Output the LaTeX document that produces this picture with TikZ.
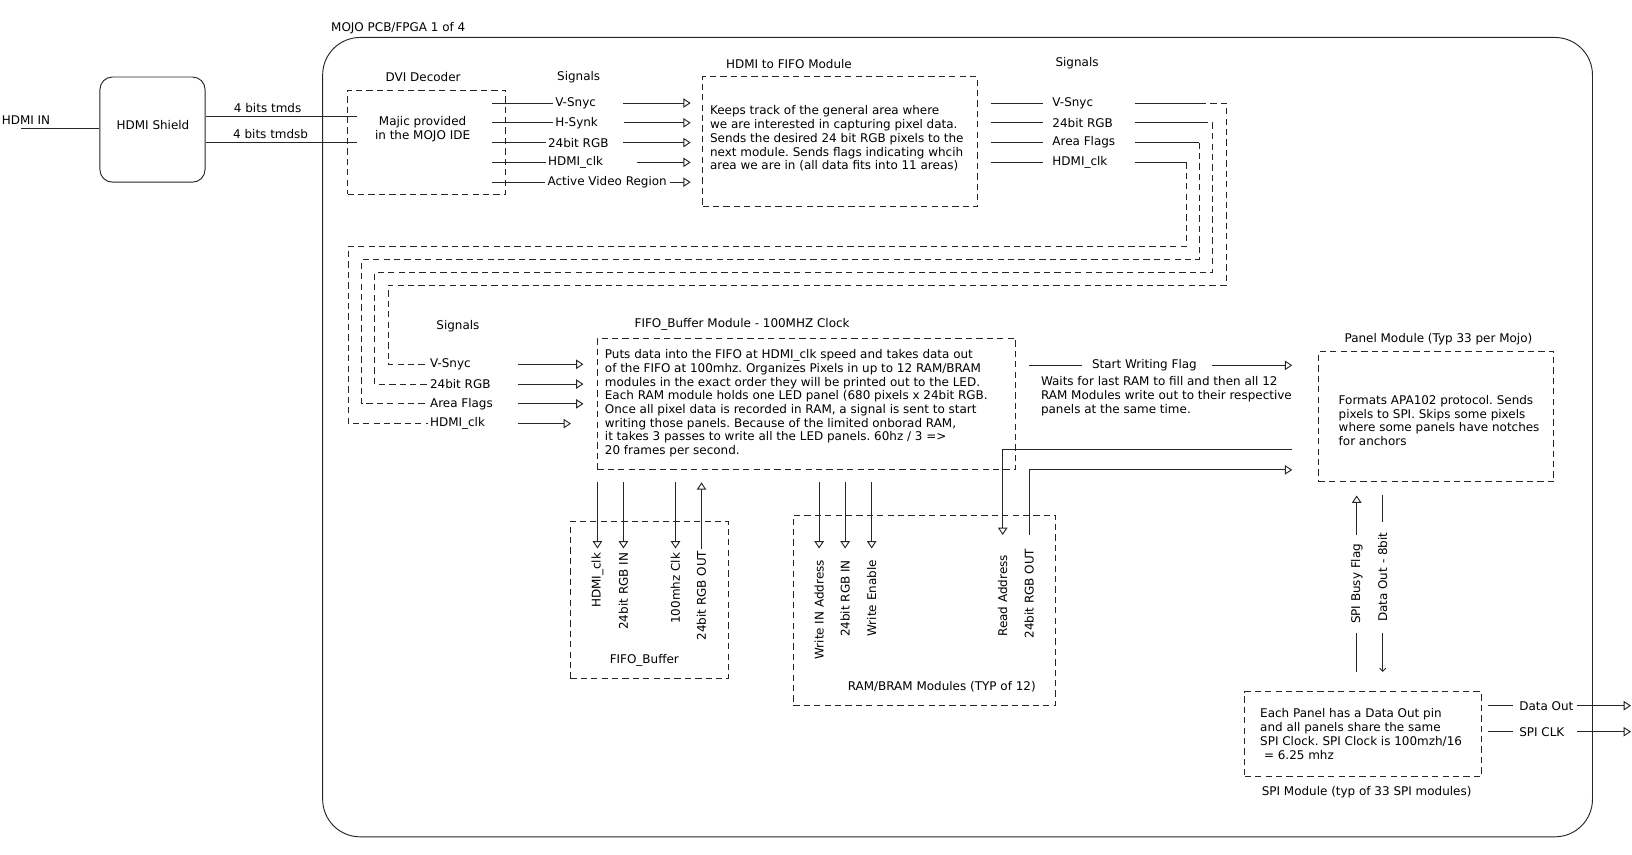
\documentclass[tikz,border=0pt]{standalone}
\usepackage{fontspec}
\setmainfont{DejaVu Sans}
\usetikzlibrary{arrows.meta, calc}
\frenchspacing

\tikzset{
    wire/.style={draw=black!85, line width=0.9pt},
    dwire/.style={wire, dash pattern=on 6pt off 4pt},
    dbox/.style={dwire, inner sep=0pt},
    sig/.style={wire, -{Triangle[open, length=7pt, width=9pt]}},
    barb/.style={wire, -{Straight Barb[length=3pt, width=6pt]}},
    txt/.style={inner sep=2pt, text=black},
    para/.style={inner sep=0pt, align=left, anchor=west, text=black},
    pinlbl/.style={inner sep=1pt, rotate=90, anchor=east, text=black},
    vlbl/.style={rotate=90, fill=white, inner ysep=1pt, text=black}
}

\begin{document}
\begin{tikzpicture}[x=1pt, y=-1pt, font=\fontsize{11.5}{13.2}\selectfont]
    \useasboundingbox (0,0) rectangle (1568,821);

    \node[wire, rounded corners=36pt, minimum width=1220pt, minimum height=768pt] (mojo) at (920,420) {};
    \node[txt, anchor=west] (mojottl) at (316,27) {MOJO PCB/FPGA 1 of 4};

    \node[wire, rounded corners=12pt, minimum width=101pt, minimum height=101pt] (shield) at (146.5,124.5) {};
    \node[txt] (shieldtxt) at (147,120) {HDMI Shield};
    \node[txt] (hdmiin) at (25,115) {HDMI IN};
    \coordinate (hinstart) at (20,123);
    \draw[wire] (hinstart) -- (hinstart -| shield.west);

    \node[dbox, minimum width=152pt, minimum height=100pt] (dvi) at (410,136.5) {};
    \node[txt] (dvittl) at (406.5,74) {DVI Decoder};
    \node[para, anchor=center, align=center] (dvitxt) at (406,124) {Majic provided\\in the MOJO IDE};

    \coordinate (tmdsa) at (343,111.5);
    \coordinate (tmdsb) at (343,136.5);
    \draw[wire] (shield.east |- tmdsa) -- node[txt, above=1pt, pos=0.41] (tmdsalbl) {4 bits tmds} (tmdsa);
    \draw[wire] (shield.east |- tmdsb) -- node[txt, above=1pt, pos=0.43] (tmdsblbl) {4 bits tmdsb} (tmdsb);

    \node[dbox, minimum width=264pt, minimum height=125pt] (h2f) at (807,136) {};
    \node[txt] (h2fttl) at (758,61.5) {HDMI to FIFO Module};
    \node[para] (h2ftxt) at (682,133.2) {Keeps track of the general area where\\
        we are interested in capturing pixel data.\\
        Sends the desired 24 bit RGB pixels to the\\
        next module. Sends flags indicating whcih\\
        area we are in (all data fits into 11 areas)};

    \node[txt] (sigattl) at (556,74) {Signals};
    \node[txt] (avs) at (553,99) {V-Snyc};
    \node[txt] (ahs) at (554,118) {H-Synk};
    \node[txt] (argb) at (555.6,137) {24bit RGB};
    \node[txt] (aclk) at (553,156) {HDMI\_clk};
    \node[txt] (aavr) at (583.4,175) {Active Video Region};
    \foreach \s/\d in {avs/24, ahs/22.5, argb/12, aclk/30, aavr/1} {
        \draw[wire] ($(dvi.east |- \s)+(-13.5,0)$) -- (\s.west);
        \draw[sig, shorten >=11pt] ($(\s.east)+(\d,0)$) -- (\s -| h2f.west);
    }

    \node[txt] (sigbttl) at (1034.8,61) {Signals};
    \node[txt, inner xsep=9pt, anchor=west] (bvs) at (1002,99) {V-Snyc};
    \node[txt, inner xsep=9pt, anchor=west] (brgb) at (1002,118) {24bit RGB};
    \node[txt, inner xsep=9pt, anchor=west] (bflg) at (1002,137) {Area Flags};
    \node[txt, inner xsep=9pt, anchor=west] (bclk) at (1002,156) {HDMI\_clk};
    \foreach \s in {bvs, brgb, bflg, bclk} {
        \draw[wire] ($(h2f.east |- \s)+(12.4,0)$) -- (\s.west);
    }
    \coordinate (bcol) at (1090,0);

    \node[txt] (sigcttl) at (440,313) {Signals};
    \node[txt, anchor=west] (cvs) at (411,350) {V-Snyc};
    \node[txt, anchor=west] (crgb) at (411,369) {24bit RGB};
    \node[txt, anchor=west] (cflg) at (411,388) {Area Flags};
    \node[txt, anchor=west] (cclk) at (411,407) {HDMI\_clk};

    \draw[wire] (bcol |- bvs) -- (1153,99);
    \draw[dwire] (1153,99) -- (1178,99) -- (1178,274) -- (373,274) |- (cvs.west);
    \draw[wire] (bcol |- brgb) -- (1155,118);
    \draw[dwire] (1155,118) -- (1165,118) -- (1165,262) -- (360,262) |- (crgb.west);
    \draw[wire] (bcol |- bflg) -- (1152,137);
    \draw[dwire] (1152,137) -- (1152,249.5) -- (347.5,249.5) |- (cflg.west);
    \draw[wire] (bcol |- bclk) -- (1139.5,156);
    \draw[dwire] (1139.5,156) -- (1139.5,236.7) -- (334.7,236.7) |- (cclk.west);

    \node[dbox, minimum width=402pt, minimum height=126pt] (fbm) at (775,388) {};
    \node[txt] (fbmttl) at (713,312) {FIFO\_Buffer Module - 100MHZ Clock};
    \node[para] (fbmtxt) at (581,387.5) {Puts data into the FIFO at HDMI\_clk speed and takes data out\\
        of the FIFO at 100mhz. Organizes Pixels in up to 12 RAM/BRAM\\
        modules in the exact order they will be printed out to the LED.\\
        Each RAM module holds one LED panel (680 pixels x 24bit RGB.\\
        Once all pixel data is recorded in RAM, a signal is sent to start\\
        writing those panels. Because of the limited onborad RAM,\\
        it takes 3 passes to write all the LED panels. 60hz / 3 =>\\
        20 frames per second.};

    \coordinate (ccol) at (498,0);
    \foreach \s/\d in {cvs/13, crgb/13, cflg/13, cclk/25} {
        \draw[sig, shorten >=\d pt] (ccol |- \s) -- (\s -| fbm.west);
    }

    \node[dbox, minimum width=226pt, minimum height=125pt] (pm) at (1380,400.5) {};
    \node[txt] (pmttl) at (1382,326) {Panel Module (Typ 33 per Mojo)};
    \node[para] (pmtxt) at (1286,404) {Formats APA102 protocol. Sends\\
        pixels to SPI. Skips some pixels\\
        where some panels have notches\\
        for anchors};

    \node[txt, inner xsep=9pt] (swf) at (1099.5,351) {Start Writing Flag};
    \draw[wire] ($(fbm.east |- swf)+(12.6,0)$) -- (swf.west);
    \draw[sig, shorten >=25pt] ($(swf.east)+(5,0)$) -- (swf -| pm.west);
    \node[para] (swftxt) at (1000,380.5) {Waits for last RAM to fill and then all 12\\
        RAM Modules write out to their respective\\
        panels at the same time.};

    \node[dbox, minimum width=152pt, minimum height=151pt] (fb) at (624,576.5) {};
    \node[txt] (fbttl) at (619,634) {FIFO\_Buffer};
    \foreach \x/\n/\t in {574/fbclk/HDMI\_clk, 599/fbrgbin/24bit RGB IN, 649/fbfast/100mhz Clk} {
        \coordinate (\n) at (\x,527);
        \draw[sig, shorten <=12pt] (\n |- fbm.south) -- (\n);
        \node[pinlbl] (\n lbl) at ($(\n)+(0,3)$) {\t};
    }
    \coordinate (fbrgbout) at (674,527);
    \draw[sig, shorten >=12pt] (fbrgbout) -- (fbrgbout |- fbm.south);
    \node[pinlbl] (fbrgboutlbl) at ($(fbrgbout)+(0,1)$) {24bit RGB OUT};

    \node[dbox, minimum width=252pt, minimum height=182.6pt] (ram) at (888.2,586.1) {};
    \node[txt] (ramttl) at (904.8,659.8) {RAM/BRAM Modules (TYP of 12)};
    \foreach \x/\n/\t in {787/ramwa/Write IN Address, 812/ramrgbin/24bit RGB IN, 837.5/ramwe/Write Enable} {
        \coordinate (\n) at (\x,527);
        \draw[sig, shorten <=12pt] (\n |- fbm.south) -- (\n);
        \node[pinlbl] (\n lbl) at ($(\n)+(0,10)$) {\t};
    }
    \coordinate (rdturn) at (963.4,432);
    \coordinate (ramrd) at (963.4,514);
    \coordinate (ramout) at (988.7,514);
    \draw[sig] ($(rdturn -| pm.west)+(-25,0)$) -| (ramrd);
    \draw[sig] (ramout) |- ($(fbm.south -| pm.west)+(-25,0)$);
    \node[pinlbl] (ramrdlbl) at ($(ramrd)+(0,18)$) {Read Address};
    \node[pinlbl] (ramoutlbl) at ($(ramout)+(0,12)$) {24bit RGB OUT};

    \node[dbox, minimum width=227pt, minimum height=81.6pt] (spi) at (1309.5,705.4) {};
    \node[para] (spitxt) at (1210.6,705.2) {Each Panel has a Data Out pin\\
        and all panels share the same\\
        SPI Clock. SPI Clock is 100mzh/16\\
        \ = 6.25 mhz};
    \node[txt] (spittl) at (1313,761) {SPI Module (typ of 33 SPI modules)};

    \coordinate (busyx) at (1303.5,560);
    \coordinate (doutx) at (1328.5,560);
    \draw[sig, shorten <=18.6pt, shorten >=12.6pt] (spi.north -| busyx) -- node[vlbl, inner xsep=8.5pt, pos=0.514] (busylbl) {SPI Busy Flag} (pm.south -| busyx);
    \draw[barb, shorten >=18.6pt, shorten <=12.6pt] (pm.south -| doutx) -- node[vlbl, inner xsep=10.6pt, pos=0.454] (doutlbl) {Data Out - 8bit} (spi.north -| doutx);

    \node[txt, anchor=west] (dout) at (1457.5,678) {Data Out};
    \node[txt, anchor=west] (sclk) at (1457.5,703) {SPI CLK};
    \coordinate (doutend) at (1567,678);
    \coordinate (sclkend) at (1567,703);
    \draw[wire] ($(spi.east |- dout)+(6,0)$) -- ($(dout.west)+(-3.5,0)$);
    \draw[wire] ($(spi.east |- sclk)+(6,0)$) -- ($(sclk.west)+(-3.5,0)$);
    \draw[sig] ($(dout.east)+(1.5,0)$) -- (doutend);
    \draw[sig] ($(sclk.east)+(10,0)$) -- (sclkend);
\end{tikzpicture}
\end{document}
